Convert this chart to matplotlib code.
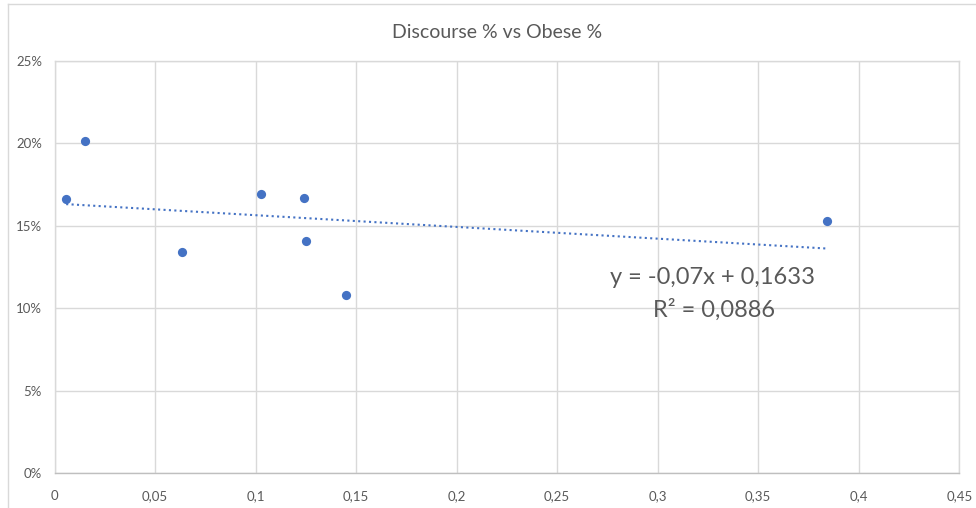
import matplotlib.pyplot as plt
import numpy as np
from matplotlib.ticker import FuncFormatter, MultipleLocator
from matplotlib.lines import Line2D

# 데이터
obese = [0.0058, 0.0153, 0.0632, 0.1028, 0.1240, 0.1249, 0.1451, 0.3842]
discourse = [0.1662, 0.2013, 0.1342, 0.1695, 0.1671, 0.1411, 0.1081, 0.1528]

title = 'Discourse % vs Obese %'
eq_line = 'y = -0,07x + 0,1633'
r2_line = 'R² = 0,0886'

blue = '#4472C4'
grey_txt = '#595959'
grid_c = '#d9d9d9'

plt.rcParams['font.family'] = ['Lato', 'DejaVu Sans']

fig = plt.figure(figsize=(9.76, 5.08), dpi=100)
ax = fig.add_axes([54.5 / 976, (508 - 473.3) / 508, (959.3 - 54.5) / 976, (473.3 - 61) / 508])

# 산점도
ax.scatter(obese, discourse, s=44, color=blue, zorder=3, linewidths=0)

# 추세선 (선형)
coef = np.polyfit(obese, discourse, 1)
xs = np.array([min(obese), max(obese)])
ax.plot(xs, np.polyval(coef, xs), linestyle=(0, (1, 1.6)), color=blue, lw=1.5, zorder=2)

ax.set_xlim(0, 0.45)
ax.set_ylim(0, 0.25)
ax.xaxis.set_major_locator(MultipleLocator(0.05))
ax.yaxis.set_major_locator(MultipleLocator(0.05))


def fmt_x(v, pos):
    s = ('%.2f' % v).rstrip('0').rstrip('.')
    return s.replace('.', ',')


ax.xaxis.set_major_formatter(FuncFormatter(fmt_x))
ax.yaxis.set_major_formatter(FuncFormatter(lambda v, p: '%d%%' % round(v * 100)))

ax.grid(True, color=grid_c, lw=1)
ax.set_axisbelow(True)
for sp in ax.spines.values():
    sp.set_color(grid_c)
    sp.set_linewidth(1)
ax.spines['bottom'].set_color('#bfbfbf')
ax.tick_params(length=0, colors=grey_txt, labelsize=9.5)
ax.tick_params(axis='x', pad=12)
ax.tick_params(axis='y', pad=9)

fig.text(497 / 976, 1 - 33 / 508, title, ha='center', va='center', color=grey_txt, fontsize=14)

# 추세선 식
ax.text(0.3272, 0.119, eq_line, ha='center', va='center', fontsize=17, color=grey_txt)
ax.text(0.3278, 0.099, r2_line, ha='center', va='center', fontsize=17, color=grey_txt)

# 차트 테두리
fig.add_artist(Line2D([8 / 976, 8 / 976], [0, 1 - 4 / 508], transform=fig.transFigure, color=grid_c, lw=1))
fig.add_artist(Line2D([8 / 976, 1], [1 - 4 / 508, 1 - 4 / 508], transform=fig.transFigure, color=grid_c, lw=1))

fig.savefig('out.png', dpi=100)
